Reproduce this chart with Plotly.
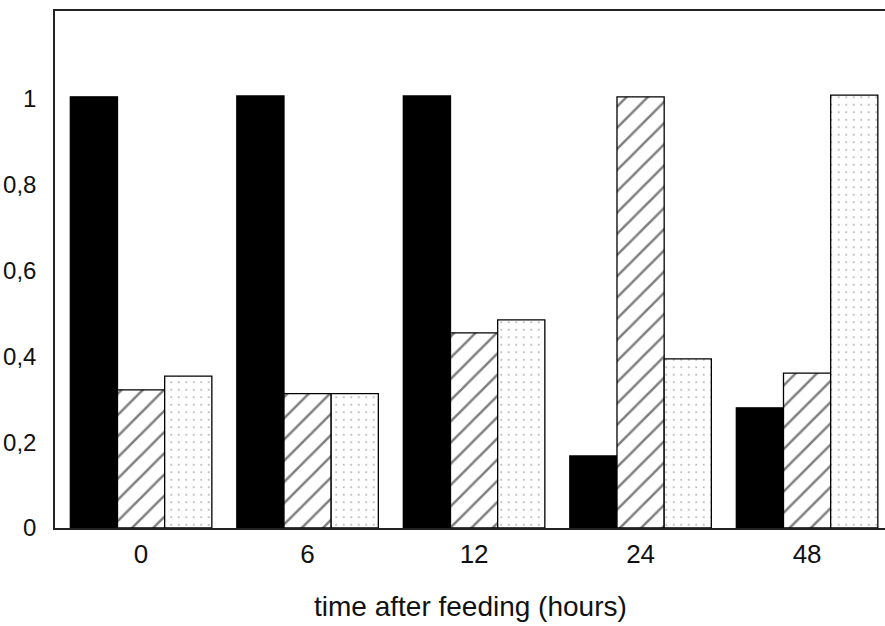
import plotly.graph_objects as go

categories = ["0", "6", "12", "24", "48"]
black_vals = [1.005, 1.007, 1.007, 0.168, 0.28]
hatched_vals = [0.322, 0.313, 0.455, 1.005, 0.361]
dotted_vals = [0.354, 0.313, 0.485, 0.394, 1.009]
ytick_vals = [0, 0.2, 0.4, 0.6, 0.8, 1]
ytick_text = ["0", "0,2", "0,4", "0,6", "0,8", "1"]
x_title = "time after feeding (hours)"

xpos = list(range(len(categories)))
fig = go.Figure()
fig.add_bar(x=xpos, y=black_vals, name="a",
            marker=dict(color="black", line=dict(color="black", width=1.3)))
fig.add_bar(x=xpos, y=hatched_vals, name="b",
            marker=dict(color="white", line=dict(color="black", width=1.3),
                        pattern=dict(shape="/", fgcolor="#000000", bgcolor="white",
                                     size=15, solidity=0.17)))
fig.add_bar(x=xpos, y=dotted_vals, name="c",
            marker=dict(color="white", line=dict(color="black", width=1.3),
                        pattern=dict(shape=".", fgcolor="#555555", bgcolor="white",
                                     size=7.5, solidity=0.05)))

font = dict(family="Liberation Sans, Arial, sans-serif", color="#111111")
fig.update_layout(
    width=885, height=626,
    margin=dict(l=55, r=0, t=11, b=98),
    paper_bgcolor="white", plot_bgcolor="white",
    barmode="group", bargap=0.15, bargroupgap=0,
    showlegend=False,
    font=font,
    annotations=[dict(text=x_title, xref="paper", yref="paper",
                      x=0.5, y=-0.151, xanchor="center", yanchor="middle",
                      showarrow=False, font=dict(size=28, color="#111111"))],
)
fig.update_xaxes(
    range=[-0.517, 4.468], tickvals=xpos, ticktext=categories,
    showline=True, linecolor="#222222", linewidth=1.5, mirror=True,
    showgrid=False, zeroline=False, ticks="", ticklabelstandoff=2,
    tickfont=dict(size=26),
)
fig.update_yaxes(
    range=[0, 1.205], tickvals=ytick_vals, ticktext=ytick_text,
    showline=True, linecolor="#222222", linewidth=1.5,
    showgrid=False, zeroline=False, ticks="", ticklabelstandoff=12,
    tickfont=dict(size=24),
)
fig.write_html("out.html", config={"displayModeBar": False},
               post_script="document.body.style.margin='0';document.body.style.overflow='hidden';")
